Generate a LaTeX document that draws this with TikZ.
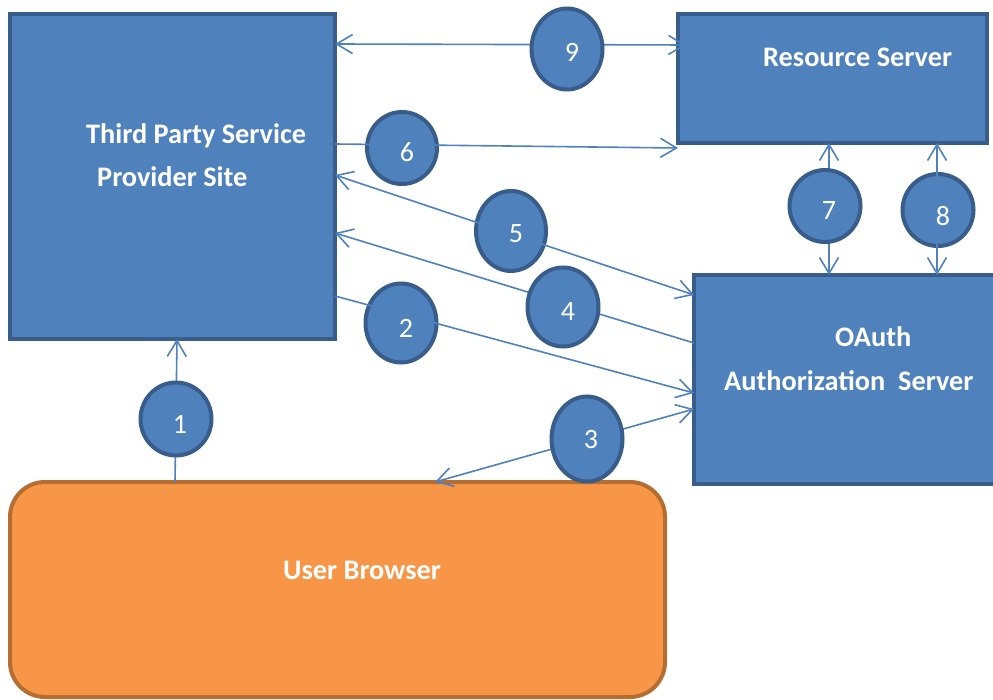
\documentclass[tikz,border=0pt]{standalone}
\usepackage{fontspec}
\setmainfont{Carlito}
\usetikzlibrary{shapes.geometric,arrows.meta}
\definecolor{boxfill}{HTML}{4F81BD}
\definecolor{boxline}{HTML}{385D8A}
\definecolor{ubfill}{HTML}{F79646}
\definecolor{ubline}{HTML}{B66D31}
\tikzset{
  bluebox/.style={draw=boxline, fill=boxfill, line width=4pt, rectangle, inner sep=0pt, outer sep=0pt, anchor=north west},
  ubbox/.style={draw=ubline, fill=ubfill, line width=4pt, rectangle, rounded corners=35pt, inner sep=0pt, outer sep=0pt, anchor=north west},
  numball/.style={draw=boxline, fill=boxfill, line width=4pt, ellipse, inner sep=0pt, outer sep=0pt},
  digit/.style={text=white, font=\fontsize{28}{33}\selectfont, inner sep=0pt, anchor=center},
  title/.style={text=white, font=\fontsize{28.3}{33}\selectfont\bfseries, inner sep=0pt, anchor=base west},
  conn/.style={draw=boxfill, line width=1.6pt},
  tip/.style={-{Straight Barb[length=16pt,width=19pt,line width=1.6pt]}},
  tips/.style={{Straight Barb[length=16pt,width=19pt,line width=1.6pt]}-{Straight Barb[length=16pt,width=19pt,line width=1.6pt]}}
}
\begin{document}
\begin{tikzpicture}[x=1pt,y=-1pt]
\useasboundingbox (0,0) rectangle (993,700);
\clip (0,0) rectangle (993,700);
% boxes
\node[bluebox, minimum width=325pt, minimum height=325pt] (tp) at (10,14) {};
\node[bluebox, minimum width=309pt, minimum height=129pt] (rs) at (678,14) {};
\node[bluebox, minimum width=320pt, minimum height=209pt] (oa) at (694,275) {};
\node[ubbox, minimum width=655pt, minimum height=215pt] (ub) at (10,482) {};
% box titles
\node[title] (tpa) at (86,144) {Third Party Service};
\node[title] (tpb) at (97,187) {Provider Site};
\node[title] (rst) at (763,67) {Resource Server};
\node[title] (oat) at (835,347) {OAuth};
\node[title] (oab) at (724,390) {Authorization\ \ Server};
\node[title] (ubt) at (283,579) {User Browser};
% connectors under the balls
\draw[conn,tips] ([yshift=-30pt]tp.north east) -- ([xshift=8pt,yshift=-31pt]rs.north west);
\draw[conn,tip] ([yshift=-68pt]oa.north west) -- ([yshift=-219pt]tp.north east);
\draw[conn,tips] ([xshift=151pt]rs.south west) -- ([xshift=135pt]oa.north west);
\draw[conn,tip] ([xshift=165pt]ub.north west) -- ([xshift=167pt]tp.south west);
\draw[conn,tips] ([xshift=425pt]ub.north west) -- ([yshift=-134pt]oa.north west);
% balls
\node[numball, minimum width=71pt, minimum height=81pt] (b9) at (567,49) {};
\node[numball, minimum width=70pt, minimum height=72pt] (b6) at (402,148) {};
\node[numball, minimum width=70pt, minimum height=80pt] (b5) at (511,231) {};
\node[numball, minimum width=71pt, minimum height=79pt] (b4) at (563,307) {};
\node[numball, minimum width=71pt, minimum height=79pt] (b2) at (401,323) {};
\node[numball, minimum width=71pt, minimum height=73pt] (b1) at (176,419) {};
\node[numball, minimum width=71pt, minimum height=85pt] (b3) at (587,439) {};
\node[numball, minimum width=71pt, minimum height=72pt] (b7) at (825,206) {};
\node[numball, minimum width=71pt, minimum height=72pt] (b8) at (938,210) {};
% connectors over the balls
\draw[conn,tip] ([yshift=-130pt]tp.north east) -- ([yshift=-5pt]rs.south west);
\draw[conn,tips] ([yshift=-161pt]tp.north east) -- ([yshift=-20pt]oa.north west);
\draw[conn,tip] ([yshift=-282pt]tp.north east) -- ([yshift=-118pt]oa.north west);
\draw[conn,tips] ([xshift=259pt]rs.south west) -- ([xshift=243pt]oa.north west);
% digits
\node[digit] (d9) at (572,52) {9};
\node[digit] (d6) at (407,152) {6};
\node[digit] (d5) at (516,234) {5};
\node[digit] (d4) at (568,312) {4};
\node[digit] (d2) at (406,328) {2};
\node[digit] (d1) at (180,424) {1};
\node[digit] (d3) at (591,440) {3};
\node[digit] (d7) at (829,211) {7};
\node[digit] (d8) at (943,216) {8};
\end{tikzpicture}
\end{document}
